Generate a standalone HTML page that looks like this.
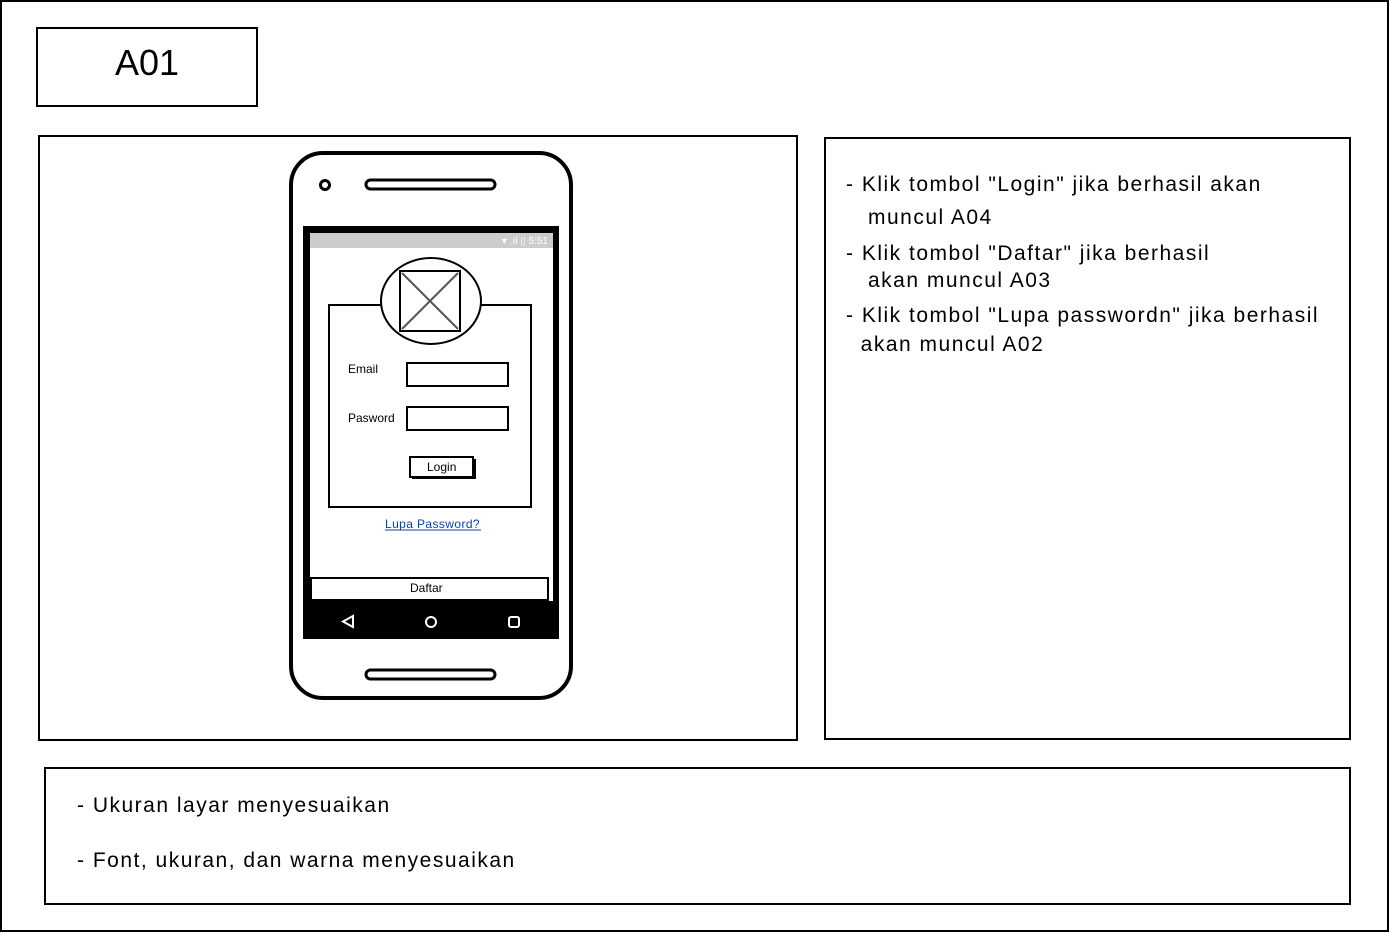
<!DOCTYPE html>
<html><head><meta charset="utf-8"><style>
body{margin:0;width:1390px;height:933px;overflow:hidden;background:#fff;font-family:"Liberation Sans",sans-serif}
svg{position:absolute;left:0;top:0}
.t{position:absolute;color:#000;white-space:nowrap}
.b{letter-spacing:1.5px}
</style></head><body>
<svg width="1390" height="933" viewBox="0 0 1390 933">
<rect x="1" y="1" width="1387" height="930" fill="none" stroke="#000" stroke-width="2"/>
<rect x="37" y="28" width="220" height="78" fill="none" stroke="#000" stroke-width="2"/>
<rect x="39" y="136" width="758" height="604" fill="none" stroke="#000" stroke-width="2"/>
<rect x="825" y="138" width="525" height="601" fill="none" stroke="#000" stroke-width="2"/>
<rect x="45" y="768" width="1305" height="136" fill="none" stroke="#000" stroke-width="2"/>
<rect x="291" y="153" width="280" height="545" rx="32" fill="#fff" stroke="#000" stroke-width="4"/>
<circle cx="325" cy="185" r="4.5" fill="none" stroke="#000" stroke-width="3"/>
<rect x="366" y="180" width="129" height="9" rx="4.5" fill="none" stroke="#000" stroke-width="3"/>
<rect x="366" y="670" width="129" height="9" rx="4.5" fill="none" stroke="#000" stroke-width="3"/>
<rect x="303" y="226" width="256" height="413" fill="#000"/>
<rect x="310" y="233" width="243" height="368" fill="#fff"/>
<rect x="310" y="233" width="243" height="15" fill="#ccc"/>
<text x="548" y="244" font-size="10" fill="#fff" text-anchor="end" font-family="Liberation Sans">▾ .ıl ▯ 5:51</text>
<rect x="305" y="603" width="253" height="35" fill="#000"/>
<path d="M353 616 L343 621.5 L353 627 Z" fill="none" stroke="#fff" stroke-width="2"/>
<circle cx="431" cy="622" r="5" fill="none" stroke="#fff" stroke-width="2"/>
<rect x="509" y="617" width="10" height="10" rx="2" fill="none" stroke="#fff" stroke-width="2"/>
<rect x="311" y="578" width="237" height="22" fill="#fff" stroke="#000" stroke-width="2"/>
<rect x="329" y="305" width="202" height="202" fill="#fff" stroke="#000" stroke-width="2"/>
<ellipse cx="431" cy="301" rx="50" ry="43" fill="#fff" stroke="#000" stroke-width="2"/>
<rect x="400" y="271" width="60" height="60" fill="none" stroke="#000" stroke-width="2"/>
<path d="M402 273 L458 329 M458 273 L402 329" stroke="#555" stroke-width="2"/>
<rect x="407" y="363" width="101" height="23" fill="#fff" stroke="#000" stroke-width="2"/>
<rect x="407" y="407" width="101" height="23" fill="#fff" stroke="#000" stroke-width="2"/>
<rect x="412" y="459" width="64" height="20" fill="#000"/>
<rect x="410" y="457" width="63" height="20" fill="#fff" stroke="#000" stroke-width="2"/>
<line x1="385" y1="530" x2="481" y2="530" stroke="#0645ad" stroke-width="1"/>
</svg>
<div class="t" style="left:115px;top:42px;font-size:36px">A01</div>
<div class="t" style="left:348px;top:362px;font-size:12px">Email</div>
<div class="t" style="left:348px;top:411px;font-size:12px">Pasword</div>
<div class="t" style="left:427px;top:460px;font-size:12px">Login</div>
<div class="t" style="left:385px;top:517px;font-size:12px;color:#0645ad;letter-spacing:0.4px">Lupa Password?</div>
<div class="t" style="left:410px;top:581px;font-size:12px">Daftar</div>
<div class="t b" style="left:846px;top:168px;font-size:21px;line-height:33px">- Klik tombol "Login" jika berhasil akan<br>&nbsp;&nbsp;&nbsp;muncul A04</div>
<div class="t b" style="left:846px;top:240px;font-size:21px;line-height:27px">- Klik tombol "Daftar" jika berhasil<br>&nbsp;&nbsp;&nbsp;akan muncul A03</div>
<div class="t b" style="left:846px;top:301px;font-size:21px;line-height:29px">- Klik tombol "Lupa passwordn" jika berhasil<br>&nbsp;&nbsp;akan muncul A02</div>
<div class="t b" style="left:77px;top:794px;font-size:21px">- Ukuran layar menyesuaikan</div>
<div class="t b" style="left:77px;top:849px;font-size:21px">- Font, ukuran, dan warna menyesuaikan</div>
</body></html>
